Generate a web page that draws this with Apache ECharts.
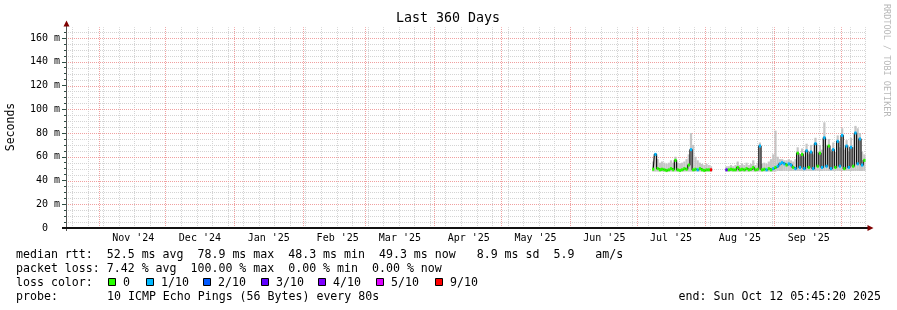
<!DOCTYPE html>
<html><head><meta charset="utf-8">
<script src="https://cdn.jsdelivr.net/npm/echarts@6/dist/echarts.min.js"></script>
<style>html,body{margin:0;padding:0;background:#fff}#c{width:897px;height:310px}</style>
</head><body><div id="c"></div><script>
// ---------------- data ----------------
const chartTitle = 'Last 360 Days';
const yAxisName = 'Seconds';
const rangeStartStr = '2024-10-17T05:45:20Z';
const rangeEndStr = '2025-10-12T05:45:20Z';
const monthStarts = ['2024-11-01','2024-12-01','2025-01-01','2025-02-01','2025-03-01','2025-04-01','2025-05-01','2025-06-01','2025-07-01','2025-08-01','2025-09-01','2025-10-01'];
const monthNames = ['Jan','Feb','Mar','Apr','May','Jun','Jul','Aug','Sep','Oct','Nov','Dec'];
const yMajorTicks = [0,20,40,60,80,100,120,140,160];
const yMax = 169;
const firstWeekLine = '2024-10-20';
// daily values, first day = dataStartDay (null = no data)
const dataStartDay = '2025-07-08';
const median = [
 49.5,62,50,49,49.5,49,48.5,49,50,49,57,49,48.5,49,50,49.5,53,66,49,49.5,49,50,49,48.5,49,49,49,
 null,null,null,null,null,null,
 49,49,49.5,49,49,51,49,49.5,49,50,49,49.5,51,49,49.5,69,49,49.5,49,50,49,50,51,52,54,55,54,53,54,53,51,50,
 63,51,62,50,65,51,64,50,71,52,63,51,76,52,69,50,66,51,73,52,78,50,69,51,68,52,80,54,75,53,57];
const lossTenths = [
 0,1,0,0,0,0,0,0,0,0,0,0,0,0,0,0,0,1,0,0,1,0,0,0,0,0,10,
 null,null,null,null,null,null,
 3,0,0,0,0,0,0,0,0,0,0,0,0,0,0,1,0,0,1,0,0,1,0,1,1,1,1,0,1,1,0,1,
 0,1,0,1,1,0,1,1,1,0,0,1,1,1,0,1,1,0,1,1,1,0,1,1,1,0,1,1,1,1,0];
const smokeHigh = [
 56,63,58,55,56,55,54,55,57,55,60,55,54,55,56,58,62,80,70,60,57,55,54,53,54,53,52,
 null,null,null,null,null,null,
 52,52,53,52,53,56,53,54,53,55,53,54,57,53,55,72,54,55,54,56,58,62,82,60,58,58,57,57,58,57,56,58,
 68,60,67,60,71,62,70,62,76,64,70,66,89,70,75,64,72,64,78,68,84,66,74,64,76,68,86,84,80,64,62];
const smokeLow = [
 47.5,47.5,47.5,47.5,47.5,47.5,47,47.5,47.5,47.5,47.5,47.5,47,47.5,47.5,47.5,47.5,47.5,47.5,47.5,47.5,47.5,47.5,47,47.5,47.5,47.5,
 null,null,null,null,null,null,
 47.5,47.5,47.5,47.5,47.5,47.5,47.5,47.5,47.5,47.5,47.5,47.5,47.5,47.5,47.5,47.5,47.5,47.5,47.5,47.5,47.5,47.5,47.5,48,48,48,48,48,48,48,48,48,
 48,48,48,48,48,48,48,48,48,48,48,48,48,48,48,48,48,48,48,48,48,48,48,48,48,48,48,48,48,48,48];
const lossColors = ['#26ff00','#00b8ff','#0059ff','#5e00ff','#7e00ff','#dd00ff','#ff0000'];
const lossLabels = ['0','1/10','2/10','3/10','4/10','5/10','9/10'];
const statLines = [
 'median rtt:  52.5 ms avg  78.9 ms max  48.3 ms min  49.3 ms now   8.9 ms sd  5.9   am/s',
 'packet loss: 7.42 % avg  100.00 % max  0.00 % min  0.00 % now'
];
const lossColorTitle = 'loss color:';
const probeTitle = 'probe:';
const probeText = '10 ICMP Echo Pings (56 Bytes) every 80s';
const endText = 'end: Sun Oct 12 05:45:20 2025';
const credit = 'RRDTOOL / TOBI OETIKER';

// ---------------- helpers ----------------
const DAY = 86400000;
const ts = s => Date.parse(s.length === 10 ? s + 'T00:00:00Z' : s);
const rangeStart = ts(rangeStartStr), rangeEnd = ts(rangeEndStr);
const MONO = '"DejaVu Sans Mono", monospace';
const GRID = {left: 66, top: 228 - yMax * 1.1875, width: 800, height: yMax * 1.1875};
const GRAY = '#d4d4d4', RED = '#f0a0a0';

function lossColor(l) { if (l <= 0) return lossColors[0]; if (l <= 5) return lossColors[l]; return lossColors[6]; }

const weekLines = [];
for (let t = ts(firstWeekLine); t < rangeEnd; t += 7 * DAY) weekLines.push([t, 0]);
const monthLines = monthStarts.map(s => [ts(s), 0]).filter(d => d[0] < rangeEnd);
const labelValues = monthStarts.map(s => ts(s) + 15.5 * DAY).filter(t => t < rangeEnd);
const yMinor = [];
for (let v = 5; v < yMax; v += 5) if (v % 20 !== 0) yMinor.push(v);

const t0 = ts(dataStartDay);
const smokeData = [], markData = [], lineData = [];
median.forEach((m, i) => {
  const t = t0 + i * DAY;
  if (m == null) { lineData.push([t + DAY / 2, '-']); return; }
  smokeData.push([t, smokeLow[i], smokeHigh[i]]);
  markData.push([t, m, lossTenths[i]]);
  lineData.push([t + DAY / 2, m]);
});

function vline(color) {
  return (params, api) => {
    const pb = api.coord([api.value(0), 0]);
    const pt = api.coord([api.value(0), yMax]);
    const x = Math.round(pb[0]) + 0.5;
    return {type: 'line', silent: true, shape: {x1: x, y1: pb[1], x2: x, y2: pt[1]},
      style: {stroke: color, lineWidth: 1, lineDash: [1, 1]}};
  };
}
function hline(color) {
  return (params, api) => {
    const pl = api.coord([rangeStart, api.value(1)]);
    const pr = api.coord([rangeEnd, api.value(1)]);
    const y = Math.round(pl[1]) + 0.5;
    return {type: 'line', silent: true, shape: {x1: pl[0], y1: y, x2: pr[0], y2: y},
      style: {stroke: color, lineWidth: 1, lineDash: [1, 1]}};
  };
}

const chart = echarts.init(document.getElementById('c'), null, {renderer: 'canvas'});
const axisCol = '#2c4d43';

const graphics = [];
const txt = (x, y, text, extra) => Object.assign({type: 'text', x, y, silent: true,
  style: Object.assign({text, font: '11.6px ' + MONO, fill: '#000', align: 'left', verticalAlign: 'middle'}, extra || {})});
graphics.push(txt(448, 19, chartTitle, {font: '13.3px ' + MONO, align: 'center'}));
graphics.push(Object.assign(txt(11, 127, yAxisName, {font: '11.5px ' + MONO, align: 'center'}), {rotation: Math.PI / 2}));
graphics.push(Object.assign(txt(886, 4, credit, {font: '8.5px ' + MONO, fill: '#b8b8b8'}), {rotation: -Math.PI / 2}));
graphics.push(txt(16, 254.5, statLines[0]));
graphics.push(txt(16, 268.5, statLines[1]));
graphics.push(txt(16, 282.5, lossColorTitle));
const sqX = [108, 146, 203, 261, 318, 376, 435];
lossLabels.forEach((lab, i) => {
  graphics.push({type: 'rect', silent: true, shape: {x: sqX[i] + 0.5, y: 278.5, width: 7, height: 7},
    style: {fill: lossColors[i], stroke: '#000', lineWidth: 1}});
  graphics.push(txt(sqX[i] + 15, 282.5, lab));
});
graphics.push(txt(16, 296.5, probeTitle));
graphics.push(txt(107, 296.5, probeText));
graphics.push(txt(881, 296.5, endText, {align: 'right'}));
graphics.push({type: 'line', silent: true, shape: {x1: 66.5, y1: 231, x2: 66.5, y2: 24}, style: {stroke: '#555', lineWidth: 1}, z: 10});
graphics.push({type: 'rect', silent: true, shape: {x: 62, y: 227, width: 807, height: 2}, style: {fill: '#111'}, z: 10});
graphics.push({type: 'polygon', silent: true, shape: {points: [[63.5, 26.5], [69.5, 26.5], [66.5, 20.5]]}, style: {fill: '#7f0000'}, z: 10});
graphics.push({type: 'polygon', silent: true, shape: {points: [[867.5, 225], [867.5, 231], [873.5, 228]]}, style: {fill: '#7f0000'}, z: 10});

chart.setOption({
  animation: false,
  backgroundColor: '#fff',
  grid: GRID,
  xAxis: {
    type: 'value', min: rangeStart, max: rangeEnd,
    axisLine: {show: false}, axisTick: {show: false}, splitLine: {show: false},
    axisLabel: {
      customValues: labelValues, margin: 5, fontSize: 10, fontFamily: MONO, color: '#000',
      formatter: v => { const d = new Date(v); return monthNames[d.getUTCMonth()] + " '" + String(d.getUTCFullYear()).slice(2); }
    }
  },
  yAxis: [{
    type: 'value', min: 0, max: yMax, position: 'left',
    axisLine: {show: false}, splitLine: {show: false},
    axisTick: {show: true, customValues: yMajorTicks, length: 4, lineStyle: {color: axisCol}},
    axisLabel: {customValues: yMajorTicks, margin: 6, fontSize: 10, fontFamily: MONO, color: '#000',
      formatter: v => v === 0 ? '0  ' : v + ' m'}
  }, {
    type: 'value', min: 0, max: yMax, position: 'left', offset: 0,
    axisLine: {show: false}, splitLine: {show: false}, axisLabel: {show: false},
    axisTick: {show: true, customValues: yMinor, length: 2, lineStyle: {color: axisCol}}
  }],
  graphic: graphics,
  series: [
    {type: 'custom', z: 0, silent: true, renderItem: vline(GRAY), data: weekLines, encode: {x: 0, y: 1}},
    {type: 'custom', z: 0, silent: true, renderItem: hline(GRAY), data: yMinor.map(v => [rangeStart, v]), encode: {x: 0, y: 1}},
    {type: 'custom', z: 1, silent: true, renderItem: hline(RED), data: yMajorTicks.filter(v => v > 0).map(v => [rangeStart, v]), encode: {x: 0, y: 1}},
    {type: 'custom', z: 1, silent: true, renderItem: vline(RED), data: monthLines, encode: {x: 0, y: 1}},
    {type: 'custom', z: 2, silent: true, data: smokeData, encode: {x: 0, y: [1, 2]},
      renderItem: (params, api) => {
        const t = api.value(0);
        const p1 = api.coord([t, api.value(2)]), p2 = api.coord([t + DAY, api.value(1)]);
        return {type: 'rect', shape: {x: p1[0], y: p1[1], width: p2[0] - p1[0], height: p2[1] - p1[1]}, style: {fill: '#c6c6c6'}};
      }},
    {type: 'line', z: 3, silent: true, data: lineData, step: 'middle', showSymbol: false, symbol: 'none',
      connectNulls: false, lineStyle: {color: '#111', width: 1.2}},
    {type: 'custom', z: 4, silent: true, data: markData, encode: {x: 0, y: 1},
      renderItem: (params, api) => {
        const t = api.value(0), m = api.value(1);
        const p1 = api.coord([t, m]), p2 = api.coord([t + DAY, m]);
        return {type: 'rect', shape: {x: p1[0], y: p1[1] - 1.5, width: p2[0] - p1[0], height: 3}, style: {fill: lossColor(api.value(2))}};
      }}
  ]
});
</script></body></html>
